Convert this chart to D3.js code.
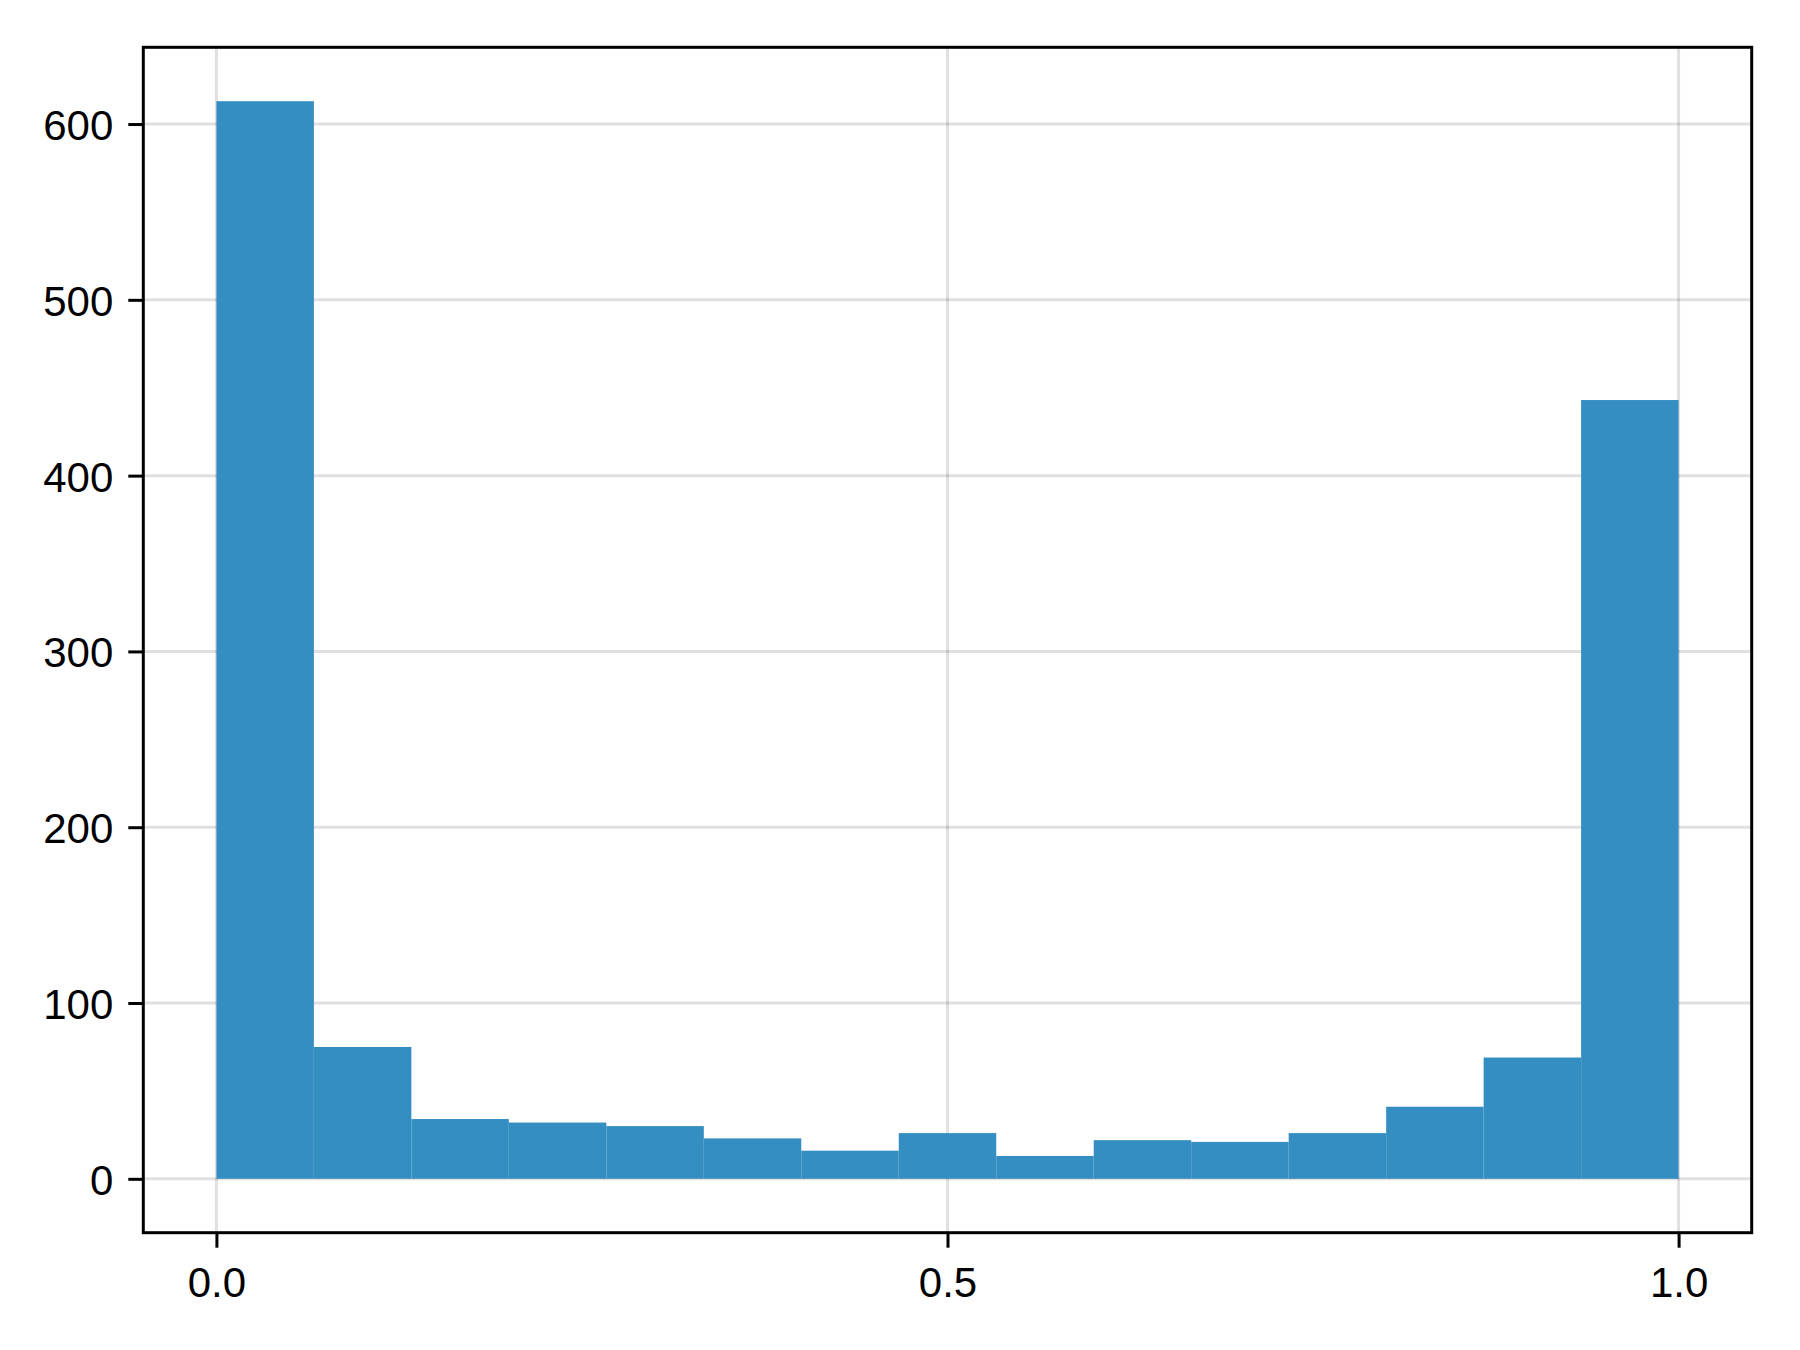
<!DOCTYPE html>
<html>
<head>
<meta charset="utf-8">
<script src="https://cdn.jsdelivr.net/npm/d3@7"></script>
<style>
  html, body { margin: 0; padding: 0; background: #fff; }
  svg { display: block; }
</style>
</head>
<body>
<svg id="chart" width="1800" height="1350"></svg>
<script>
// Histogram data: 15 equal-width bins over [0, 1]
const binEdges = [0, 1/15, 2/15, 3/15, 4/15, 5/15, 6/15, 7/15, 8/15, 9/15, 10/15, 11/15, 12/15, 13/15, 14/15, 1];
const counts = [613, 75, 34, 32, 30, 23, 16, 26, 13, 22, 21, 26, 41, 69, 443];
const xTicks = [0, 0.5, 1.0];
const xTickLabels = ["0.0", "0.5", "1.0"];
const yTicks = [0, 100, 200, 300, 400, 500, 600];
const yTickLabels = ["0", "100", "200", "300", "400", "500", "600"];

(function () {
const svg = d3.select("#chart");
const pLeft = 143.3, pRight = 1751.7, pTop = 47.3, pBottom = 1232.7;

const maxCount = d3.max(counts);
const x = d3.scaleLinear().domain([-0.05, 1.05]).range([pLeft, pRight]);
const y = d3.scaleLinear().domain([-0.05 * maxCount, maxCount * 1.05]).range([pBottom, pTop]);

const font = "'Liberation Sans', Arial, Helvetica, sans-serif";

// grid
const grid = svg.append("g");
grid.selectAll("line.gx").data(xTicks).enter().append("line")
  .attr("class", "gx")
  .attr("x1", d => x(d)).attr("x2", d => x(d))
  .attr("y1", pTop).attr("y2", pBottom)
  .attr("stroke", "rgba(0,0,0,0.12)").attr("stroke-width", 3);
grid.selectAll("line.gy").data(yTicks).enter().append("line")
  .attr("class", "gy")
  .attr("y1", d => y(d)).attr("y2", d => y(d))
  .attr("x1", pLeft).attr("x2", pRight)
  .attr("stroke", "rgba(0,0,0,0.12)").attr("stroke-width", 3);

// bars
const bins = counts.map((c, i) => ({ x0: binEdges[i], x1: binEdges[i + 1], c }));
svg.append("g").selectAll("rect").data(bins).enter().append("rect")
  .attr("x", d => x(d.x0))
  .attr("width", d => x(d.x1) - x(d.x0))
  .attr("y", d => y(d.c))
  .attr("height", d => y(0) - y(d.c))
  .attr("fill", "rgb(52,142,193)");

// spines
svg.append("rect")
  .attr("x", pLeft).attr("y", pTop)
  .attr("width", pRight - pLeft).attr("height", pBottom - pTop)
  .attr("fill", "none").attr("stroke", "#000").attr("stroke-width", 3);

// x axis ticks
const xAxis = d3.axisBottom(x).tickValues(xTicks)
  .tickFormat((d, i) => xTickLabels[i]).tickSize(15).tickPadding(9);
const gx = svg.append("g").attr("transform", `translate(0,${pBottom})`).call(xAxis);
gx.select(".domain").remove();
gx.selectAll(".tick line").attr("stroke", "#000").attr("stroke-width", 3);
gx.selectAll(".tick text")
  .attr("font-family", font).attr("font-size", 42).attr("fill", "#000")
  .attr("dy", null).attr("y", 64);

// y axis ticks
const yAxis = d3.axisLeft(y).tickValues(yTicks)
  .tickFormat((d, i) => yTickLabels[i]).tickSize(15).tickPadding(9);
const gy = svg.append("g").attr("transform", `translate(${pLeft},0)`).call(yAxis);
gy.select(".domain").remove();
gy.selectAll(".tick line").attr("stroke", "#000").attr("stroke-width", 3);
gy.selectAll(".tick text")
  .attr("font-family", font).attr("font-size", 42).attr("fill", "#000")
  .attr("dy", null).attr("x", -30).attr("y", 15.5);
})();
</script>
</body>
</html>
